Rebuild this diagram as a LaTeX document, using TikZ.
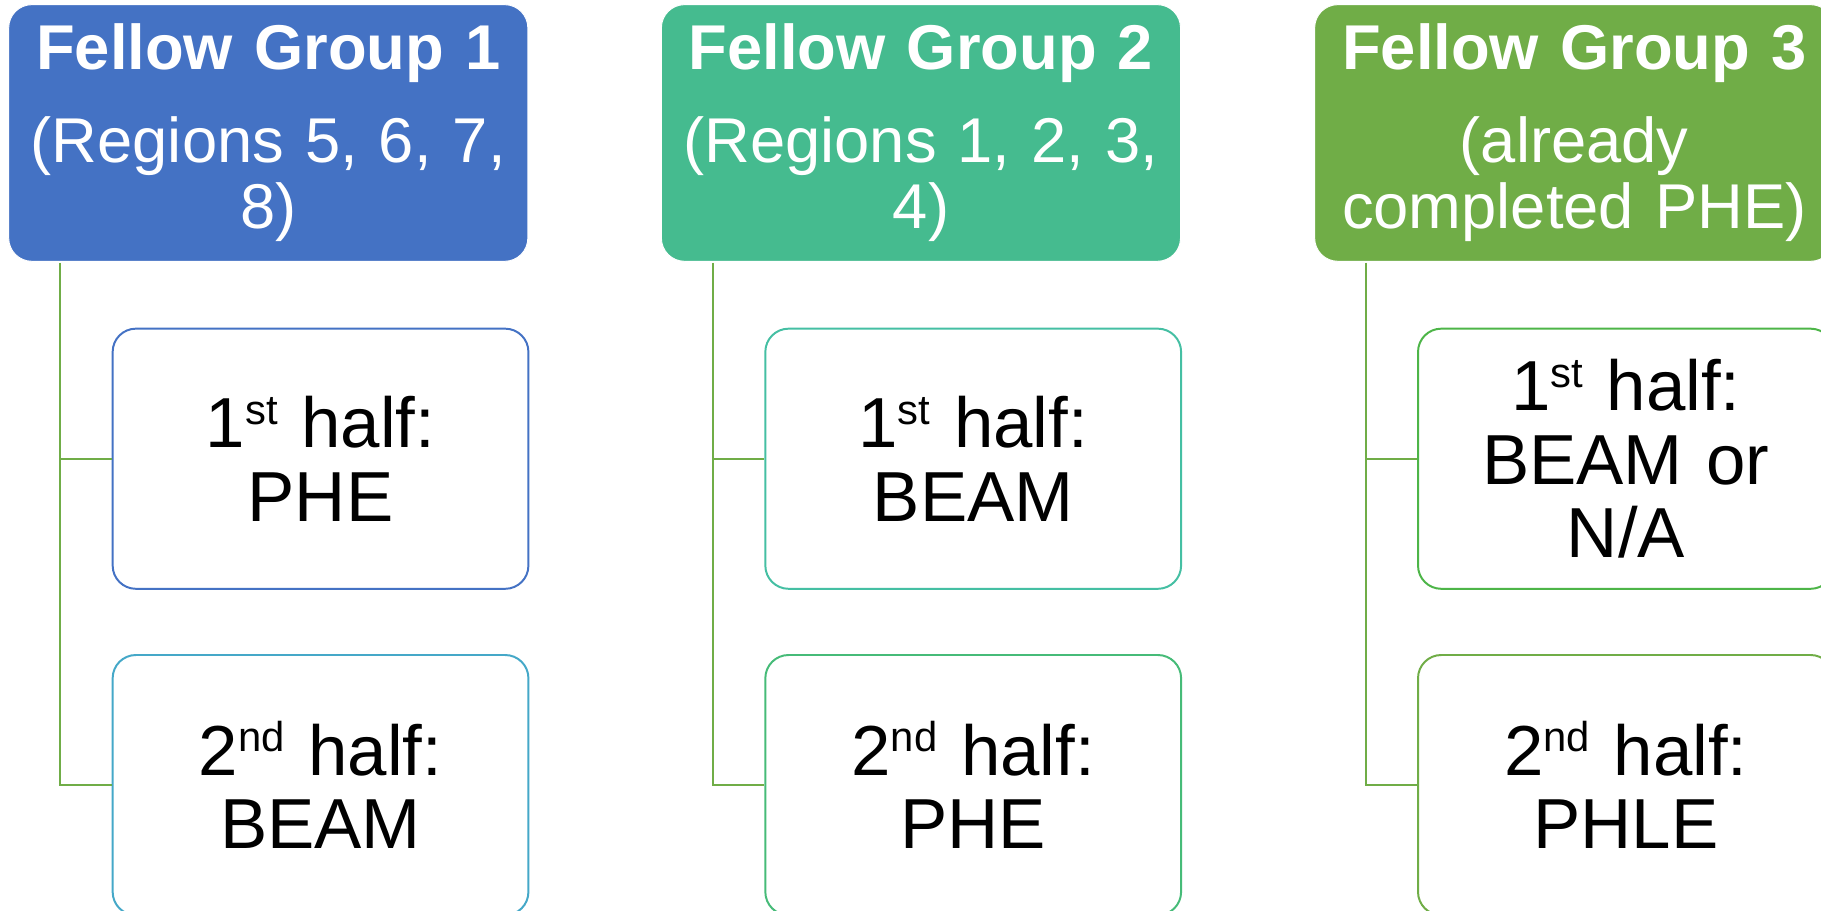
\documentclass[tikz,border=0pt]{standalone}
\usepackage{fontspec}
\setmainfont{Liberation Sans}
\definecolor{hdrA}{HTML}{4472C4}
\definecolor{hdrB}{HTML}{45BB8F}
\definecolor{hdrC}{HTML}{70AD47}
\definecolor{lnk}{HTML}{70AD47}
\definecolor{cAa}{HTML}{4472C4}
\definecolor{cAb}{HTML}{45A8C8}
\definecolor{cBa}{HTML}{45BFA3}
\definecolor{cBb}{HTML}{46BB78}
\definecolor{cCa}{HTML}{4DB548}
\definecolor{cCb}{HTML}{70AD47}
\newcommand{\supx}[1]{\raisebox{0.33em}{\fontsize{36}{36}\selectfont #1}}
\tikzset{
  hdrbox/.style={rectangle, rounded corners=20pt, minimum width=447pt, minimum height=221pt,
    text width=430pt, align=center, text=white, draw=white, line width=0.8pt, inner sep=0pt,
    font=\fontsize{54.5}{57.5}\selectfont},
  childbox/.style={rectangle, rounded corners=20pt, fill=white, line width=1.7pt,
    minimum width=358pt, minimum height=224pt, text width=340pt, align=center, inner sep=0pt,
    font=\fontsize{61}{63.3}\selectfont},
  conn/.style={draw=lnk, line width=1.6pt}
}
\begin{document}
\begin{tikzpicture}[x=1pt,y=-1pt]
\useasboundingbox (0,0) rectangle (1568,784);
\begin{scope}
\clip (0,0) rectangle (1568,784);
% headers
\node[hdrbox, fill=hdrA] (h1) at (231,114.5) {{\bfseries Fellow Group 1}\\[22pt](Regions 5, 6, 7,\\8)};
\node[hdrbox, fill=hdrB] (h2) at (793,114.5) {{\bfseries Fellow Group 2}\\[22pt](Regions 1, 2, 3,\\4)};
\node[hdrbox, fill=hdrC] (h3) at (1355.5,114.5) {{\bfseries Fellow Group 3}\\[22pt](already\\completed PHE)};
% children
\node[childbox, draw=cAa] (a1) at (276,395) {1\supx{st} half:\\PHE};
\node[childbox, draw=cAb] (a2) at (276,676) {2\supx{nd} half:\\BEAM};
\node[childbox, draw=cBa] (b1) at (838,395) {1\supx{st} half:\\BEAM};
\node[childbox, draw=cBb] (b2) at (838,676) {2\supx{nd} half:\\PHE};
\node[childbox, draw=cCa] (c1) at (1400,395) {1\supx{st} half:\\BEAM or\\N/A};
\node[childbox, draw=cCb] (c2) at (1400,676) {2\supx{nd} half:\\PHLE};
% connectors
\draw[conn] ([xshift=-179pt,yshift=-1pt]h1.south) |- (a1.west);
\draw[conn] ([xshift=-179pt,yshift=-1pt]h1.south) |- (a2.west);
\draw[conn] ([xshift=-179pt,yshift=-1pt]h2.south) |- (b1.west);
\draw[conn] ([xshift=-179pt,yshift=-1pt]h2.south) |- (b2.west);
\draw[conn] ([xshift=-179.5pt,yshift=-1pt]h3.south) |- (c1.west);
\draw[conn] ([xshift=-179.5pt,yshift=-1pt]h3.south) |- (c2.west);
\end{scope}
\end{tikzpicture}
\end{document}
